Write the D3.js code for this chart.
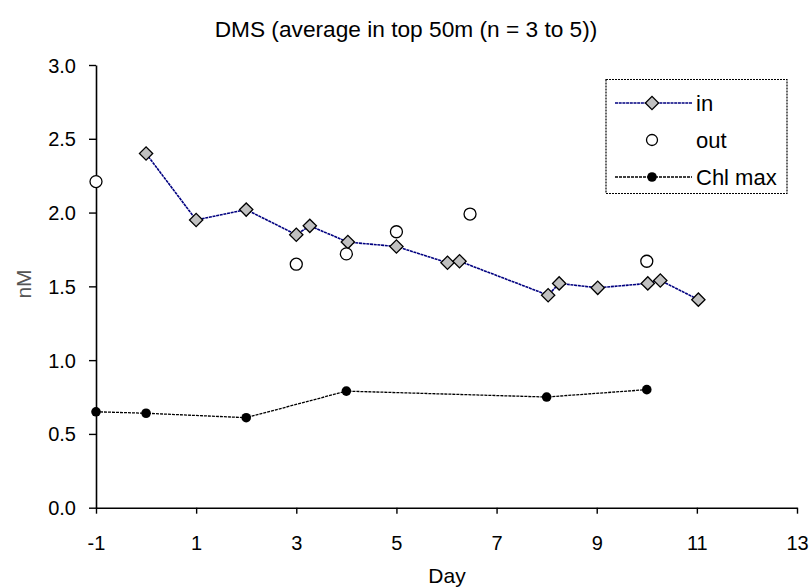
<!DOCTYPE html>
<html><head><meta charset="utf-8">
<script src="https://cdn.jsdelivr.net/npm/d3@7"></script>
<style>body{margin:0;background:#fff}svg{display:block}text{font-family:"Liberation Sans",Arial,sans-serif}</style>
</head><body>
<script>
const inDays = [0, 1, 2, 3, 3.27, 4.03, 5, 6.02, 6.26, 8.03, 8.25, 9.02, 10.02, 10.27, 11.03];
const inVals = [2.40, 1.95, 2.02, 1.85, 1.91, 1.80, 1.77, 1.66, 1.67, 1.44, 1.52, 1.49, 1.52, 1.54, 1.41];
const outDays = [-1, 3, 4, 5, 6.47, 10];
const outVals = [2.21, 1.65, 1.72, 1.87, 1.99, 1.67];
const chlDays = [-1, 0, 2, 4, 8, 10];
const chlVals = [0.65, 0.64, 0.61, 0.79, 0.75, 0.80];
const xTicks = [-1, 1, 3, 5, 7, 9, 11, 13];
const yTicks = [0, 0.5, 1.0, 1.5, 2.0, 2.5, 3.0];

const W = 812, H = 587;
const svg = d3.select("body").append("svg").attr("width", W).attr("height", H);
const x = d3.scaleLinear().domain([-1, 13]).range([96, 797]);
const y = d3.scaleLinear().domain([0, 3]).range([507.7, 65]);
const FONT = '"Liberation Sans",Arial,sans-serif';

// axes
const xAxis = svg.append("g").attr("transform", "translate(0,507.7)")
  .call(d3.axisBottom(x).tickValues(xTicks).tickSize(6).tickSizeOuter(0).tickFormat(d => String(d)));
const yAxis = svg.append("g").attr("transform", "translate(96,0)")
  .call(d3.axisLeft(y).tickValues(yTicks).tickSize(7).tickSizeOuter(0).tickFormat(d => d.toFixed(1)));
[xAxis, yAxis].forEach(g => {
  g.select(".domain").attr("stroke", "#000").attr("stroke-width", 1.6);
  g.selectAll(".tick line").attr("stroke", "#000").attr("stroke-width", 1.4);
  g.selectAll(".tick text").attr("fill", "#000").style("font-size", "20px").style("font-family", FONT);
});
xAxis.selectAll(".tick text").attr("y", 0).attr("dy", 0).attr("transform", "translate(0,42.5)");
yAxis.selectAll(".tick text").attr("x", -20).attr("dy", "0.35em");

// titles
svg.append("text").attr("x", 406).attr("y", 37).attr("text-anchor", "middle")
  .style("font-size", "22.7px").text("DMS (average in top 50m (n = 3 to 5))");
svg.append("text").attr("x", 447).attr("y", 583).attr("text-anchor", "middle")
  .style("font-size", "21px").text("Day");
svg.append("text").attr("transform", "translate(24,284) rotate(-90)").attr("text-anchor", "middle")
  .attr("dy", "0.35em").style("font-size", "21px").attr("fill", "#555").text("nM");

const diamond = d3.symbol().type(d3.symbolSquare).size(88);

// in series
const inData = inDays.map((d, i) => [d, inVals[i]]);
svg.append("path").datum(inData)
  .attr("d", d3.line().x(d => x(d[0])).y(d => y(d[1])))
  .attr("fill", "none").attr("stroke", "#000080").attr("stroke-width", 1.6).attr("stroke-dasharray", "3,0.7");
svg.append("g").selectAll("path").data(inData).join("path")
  .attr("d", diamond)
  .attr("transform", d => `translate(${x(d[0])},${y(d[1])}) rotate(45)`)
  .attr("fill", "#c0c0c0").attr("stroke", "#000").attr("stroke-width", 1.3);

// out series
const outData = outDays.map((d, i) => [d, outVals[i]]);
svg.append("g").selectAll("circle").data(outData).join("circle")
  .attr("cx", d => x(d[0])).attr("cy", d => y(d[1])).attr("r", 6)
  .attr("fill", "#fff").attr("stroke", "#000").attr("stroke-width", 1.3);

// chl max
const chlData = chlDays.map((d, i) => [d, chlVals[i]]);
svg.append("path").datum(chlData)
  .attr("d", d3.line().x(d => x(d[0])).y(d => y(d[1])))
  .attr("fill", "none").attr("stroke", "#000").attr("stroke-width", 1.3).attr("stroke-dasharray", "3,1");
svg.append("g").selectAll("circle").data(chlData).join("circle")
  .attr("cx", d => x(d[0])).attr("cy", d => y(d[1])).attr("r", 4.8)
  .attr("fill", "#000");

// legend
const lg = svg.append("g");
lg.append("rect").attr("x", 606).attr("y", 79.5).attr("width", 181).attr("height", 114)
  .attr("fill", "#fff").attr("stroke", "#000").attr("stroke-width", 1.2).attr("stroke-dasharray", "2,1");
const ly = [103, 140, 177];
lg.append("line").attr("x1", 615).attr("x2", 692).attr("y1", ly[0]).attr("y2", ly[0])
  .attr("stroke", "#000080").attr("stroke-width", 1.4).attr("stroke-dasharray", "3,0.7");
lg.append("path").attr("d", diamond).attr("transform", `translate(652,${ly[0]}) rotate(45)`)
  .attr("fill", "#c0c0c0").attr("stroke", "#000").attr("stroke-width", 1.3);
lg.append("circle").attr("cx", 652).attr("cy", ly[1]).attr("r", 5.5)
  .attr("fill", "#fff").attr("stroke", "#000").attr("stroke-width", 1.3);
lg.append("line").attr("x1", 615).attr("x2", 692).attr("y1", ly[2]).attr("y2", ly[2])
  .attr("stroke", "#000").attr("stroke-width", 1.3).attr("stroke-dasharray", "3,1");
lg.append("circle").attr("cx", 652).attr("cy", ly[2]).attr("r", 4.8).attr("fill", "#000");
["in", "out", "Chl max"].forEach((t, i) => {
  lg.append("text").attr("x", 696).attr("y", ly[i]).attr("dy", "0.35em")
    .style("font-size", "22px").text(t);
});
</script>
</body></html>
